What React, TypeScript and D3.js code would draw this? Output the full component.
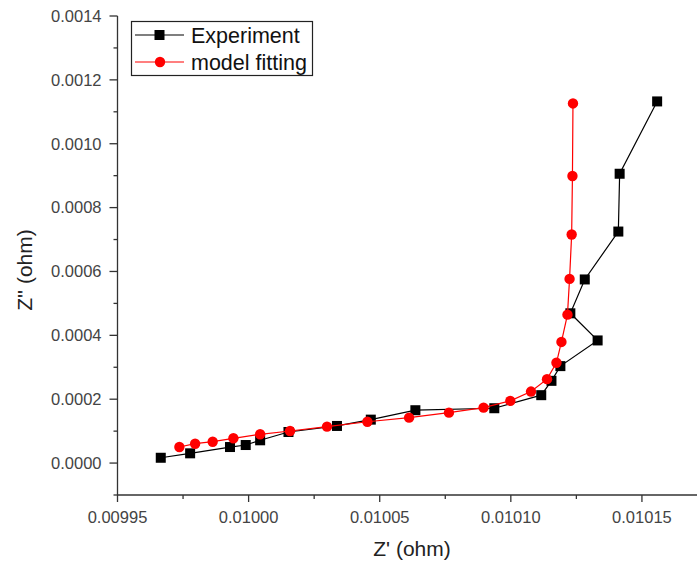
import React, { useEffect, useRef } from "react";
import * as d3 from "d3";

// Experiment (black squares)
const expZre = [
  0.0099665, 0.0099777, 0.0099929, 0.0099989, 0.0100044, 0.0100152, 0.0100337,
  0.0100466, 0.0100636, 0.0100937, 0.0101116, 0.0101155, 0.0101189, 0.0101331,
  0.0101227, 0.0101282, 0.010141, 0.0101415, 0.0101558,
];
const expZim = [
  0.0000166, 0.0000305, 0.0000502, 0.0000565, 0.0000713, 0.0000973, 0.0001162,
  0.000136, 0.0001655, 0.0001717, 0.0002126, 0.0002575, 0.0003036, 0.000384,
  0.000469, 0.000575, 0.000725, 0.000906, 0.0011325,
];

// model fitting (red circles)
const fitZre = [
  0.0099736, 0.0099796, 0.0099863, 0.0099942, 0.0100044, 0.0100158, 0.0100299,
  0.0100453, 0.0100612, 0.0100764, 0.0100896, 0.0100998, 0.0101077, 0.0101138,
  0.0101174, 0.0101193, 0.0101216, 0.0101224, 0.0101232, 0.0101235, 0.0101237,
];
const fitZim = [
  0.0000502, 0.0000606, 0.0000669, 0.0000776, 0.0000901, 0.0001005, 0.000114,
  0.0001294, 0.0001422, 0.0001579, 0.0001736, 0.0001947, 0.0002239, 0.0002628,
  0.000314, 0.0003793, 0.0004647, 0.0005768, 0.0007159, 0.0008989, 0.0011262,
];

const xTicks = [0.00995, 0.01, 0.01005, 0.0101, 0.01015];
const xMinor = [0.009975, 0.010025, 0.010075, 0.010125];
const yTicks = [0, 0.0002, 0.0004, 0.0006, 0.0008, 0.001, 0.0012, 0.0014];
const yMinor = [-0.0001, 0.0001, 0.0003, 0.0005, 0.0007, 0.0009, 0.0011, 0.0013];

const seriesNames = ["Experiment", "model fitting"];

const W = 697;
const H = 564;

export default function App() {
  const ref = useRef<SVGSVGElement>(null);

  useEffect(() => {
    const svg = d3.select(ref.current);
    svg.selectAll("*").remove();

    const x = d3.scaleLinear().domain([0.00995, 0.010171]).range([117.5, 697]);
    const y = d3.scaleLinear().domain([-0.0001, 0.0014]).range([495, 16]);
    const axisColor = "#333";
    const font = "Arial, 'Liberation Sans', sans-serif";

    // x axis
    const gx = svg.append("g").attr("transform", "translate(0,495)");
    gx.append("line")
      .attr("x1", x.range()[0]).attr("x2", x.range()[1])
      .attr("stroke", axisColor).attr("stroke-width", 1.3);
    gx.selectAll(".xmaj").data(xTicks).join("line")
      .attr("x1", (d) => x(d)).attr("x2", (d) => x(d))
      .attr("y1", 0).attr("y2", 7)
      .attr("stroke", axisColor).attr("stroke-width", 1.3);
    gx.selectAll(".xmin").data(xMinor).join("line")
      .attr("x1", (d) => x(d)).attr("x2", (d) => x(d))
      .attr("y1", 0).attr("y2", 4)
      .attr("stroke", axisColor).attr("stroke-width", 1.3);
    gx.selectAll("text").data(xTicks).join("text")
      .attr("x", (d) => x(d)).attr("y", 28)
      .attr("text-anchor", "middle")
      .attr("font-family", font).attr("font-size", 16.5)
      .attr("fill", "#444")
      .text((d) => d.toFixed(5));

    // y axis
    const gy = svg.append("g").attr("transform", "translate(117.5,0)");
    gy.append("line")
      .attr("y1", y.range()[0]).attr("y2", y.range()[1])
      .attr("stroke", axisColor).attr("stroke-width", 1.3);
    gy.selectAll(".ymaj").data(yTicks).join("line")
      .attr("y1", (d) => y(d)).attr("y2", (d) => y(d))
      .attr("x1", 0).attr("x2", -8)
      .attr("stroke", axisColor).attr("stroke-width", 1.3);
    gy.selectAll(".ymin").data(yMinor).join("line")
      .attr("y1", (d) => y(d)).attr("y2", (d) => y(d))
      .attr("x1", 0).attr("x2", -4)
      .attr("stroke", axisColor).attr("stroke-width", 1.3);
    gy.selectAll("text").data(yTicks).join("text")
      .attr("x", -16).attr("y", (d) => y(d))
      .attr("dy", "0.35em")
      .attr("text-anchor", "end")
      .attr("font-family", font).attr("font-size", 16.5)
      .attr("fill", "#444")
      .text((d) => d.toFixed(4));

    // axis titles
    svg.append("text")
      .attr("x", 412).attr("y", 556)
      .attr("text-anchor", "middle")
      .attr("font-family", font).attr("font-size", 21)
      .attr("fill", "#222")
      .text("Z' (ohm)");
    svg.append("text")
      .attr("transform", "translate(32,270) rotate(-90)")
      .attr("text-anchor", "middle")
      .attr("font-family", font).attr("font-size", 21)
      .attr("fill", "#222")
      .text("Z'' (ohm)");

    const line = d3.line<[number, number]>()
      .x((d) => x(d[0]))
      .y((d) => y(d[1]));

    const expData: [number, number][] = expZre.map((v, i) => [v, expZim[i]]);
    const fitData: [number, number][] = fitZre.map((v, i) => [v, fitZim[i]]);

    svg.append("path").datum(expData)
      .attr("d", line).attr("fill", "none")
      .attr("stroke", "#000").attr("stroke-width", 1.2);
    svg.selectAll(".sq").data(expData).join("rect")
      .attr("x", (d) => x(d[0]) - 5).attr("y", (d) => y(d[1]) - 5)
      .attr("width", 10).attr("height", 10)
      .attr("fill", "#000");

    svg.append("path").datum(fitData)
      .attr("d", line).attr("fill", "none")
      .attr("stroke", "#ff0000").attr("stroke-width", 1.2);
    svg.selectAll(".ci").data(fitData).join("circle")
      .attr("cx", (d) => x(d[0])).attr("cy", (d) => y(d[1]))
      .attr("r", 5.2)
      .attr("fill", "#ff0000");

    // legend
    const lg = svg.append("g");
    lg.append("rect")
      .attr("x", 131.5).attr("y", 21.5).attr("width", 181).attr("height", 54)
      .attr("fill", "#fff").attr("stroke", "#222").attr("stroke-width", 1.2);
    const rows = [35, 62];
    const colors = ["#000", "#ff0000"];
    seriesNames.forEach((name, i) => {
      lg.append("line")
        .attr("x1", 135).attr("x2", 184)
        .attr("y1", rows[i]).attr("y2", rows[i])
        .attr("stroke", colors[i]).attr("stroke-width", 1.2);
      if (i === 0) {
        lg.append("rect")
          .attr("x", 154.5).attr("y", rows[i] - 5)
          .attr("width", 10).attr("height", 10).attr("fill", colors[i]);
      } else {
        lg.append("circle")
          .attr("cx", 160).attr("cy", rows[i]).attr("r", 5.2).attr("fill", colors[i]);
      }
      lg.append("text")
        .attr("x", 191).attr("y", rows[i])
        .attr("dy", "0.36em")
        .attr("font-family", font).attr("font-size", 21.5)
        .attr("fill", "#111")
        .text(name);
    });
  }, []);

  return (
    <svg
      ref={ref}
      width={W}
      height={H}
      style={{ position: "absolute", left: 0, top: 0, background: "#fff" }}
    />
  );
}
